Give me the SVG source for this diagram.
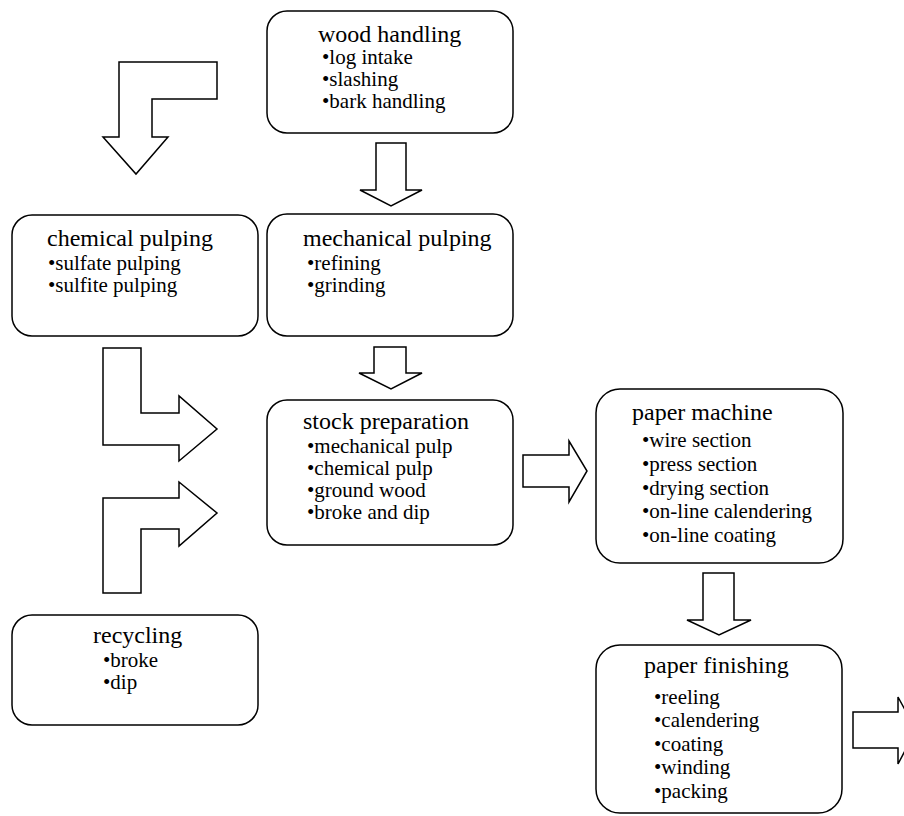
<svg xmlns="http://www.w3.org/2000/svg" width="904" height="816" viewBox="0 0 904 816">
<style>
.box{fill:#fff;stroke:#000;stroke-width:1.5}
.arr{fill:#fff;stroke:#000;stroke-width:1.5;stroke-linejoin:miter}
.t{font-family:"Liberation Serif","Times New Roman",serif;font-size:24px;fill:#000}
.b{font-family:"Liberation Serif","Times New Roman",serif;font-size:21px;fill:#000}
</style>
<rect width="904" height="816" fill="#fff"/>
<g id="connectors">
<polygon class="arr" points="119,62 217,62 217,99 152,99 152,137 168,137 136,174 103,137 119,137"/>
<polygon class="arr" points="376,143 406,143 406,190 422,190 391,206 360,190 376,190"/>
<polygon class="arr" points="374,347 406,347 406,373 422,373 391,389 359,373 374,373"/>
<polygon class="arr" points="103,348 141,348 141,413 179,413 179,396 217,429 179,461 179,445 103,445"/>
<polygon class="arr" points="103,593 103,498 179,498 179,482 217,513 179,546 179,529 141,529 141,593"/>
<polygon class="arr" points="523,455 569,455 569,441 587,471 569,502 569,487 523,487"/>
<polygon class="arr" points="703,573 734,573 734,620 751,620 719,635 687,620 703,620"/>
<polygon class="arr" points="853,712 898,712 898,697 916,730 898,764 898,748 853,748"/>
</g>
<g id="wood">
<rect class="box" x="267" y="11" width="246" height="122" rx="20"/>
<text class="t" x="318" y="42">wood handling</text>
<text class="b" x="322" y="64">•log intake</text>
<text class="b" x="322" y="86">•slashing</text>
<text class="b" x="322" y="108">•bark handling</text>
</g>
<g id="chemical">
<rect class="box" x="12" y="215" width="246" height="121" rx="20"/>
<text class="t" x="47" y="246">chemical pulping</text>
<text class="b" x="48" y="270">•sulfate pulping</text>
<text class="b" x="48" y="292">•sulfite pulping</text>
</g>
<g id="mechanical">
<rect class="box" x="267" y="214" width="246" height="122" rx="20"/>
<text class="t" x="303" y="246">mechanical pulping</text>
<text class="b" x="307" y="270">•refining</text>
<text class="b" x="307" y="292">•grinding</text>
</g>
<g id="stock">
<rect class="box" x="267" y="400" width="246" height="145" rx="20"/>
<text class="t" x="303" y="429">stock preparation</text>
<text class="b" x="307" y="453">•mechanical pulp</text>
<text class="b" x="307" y="475">•chemical pulp</text>
<text class="b" x="307" y="497">•ground wood</text>
<text class="b" x="307" y="519">•broke and dip</text>
</g>
<g id="machine">
<rect class="box" x="596" y="389" width="247" height="174" rx="24"/>
<text class="t" x="632" y="420">paper machine</text>
<text class="b" x="642" y="447">•wire section</text>
<text class="b" x="642" y="471">•press section</text>
<text class="b" x="642" y="495">•drying section</text>
<text class="b" x="642" y="518">•on-line calendering</text>
<text class="b" x="642" y="542">•on-line coating</text>
</g>
<g id="finishing">
<rect class="box" x="596" y="645" width="246" height="168" rx="24"/>
<text class="t" x="644" y="673">paper finishing</text>
<text class="b" x="654" y="704">•reeling</text>
<text class="b" x="654" y="727">•calendering</text>
<text class="b" x="654" y="751">•coating</text>
<text class="b" x="654" y="774">•winding</text>
<text class="b" x="654" y="798">•packing</text>
</g>
<g id="recycling">
<rect class="box" x="12" y="615" width="246" height="110" rx="20"/>
<text class="t" x="93" y="643">recycling</text>
<text class="b" x="103" y="667">•broke</text>
<text class="b" x="103" y="689">•dip</text>
</g>
</svg>
